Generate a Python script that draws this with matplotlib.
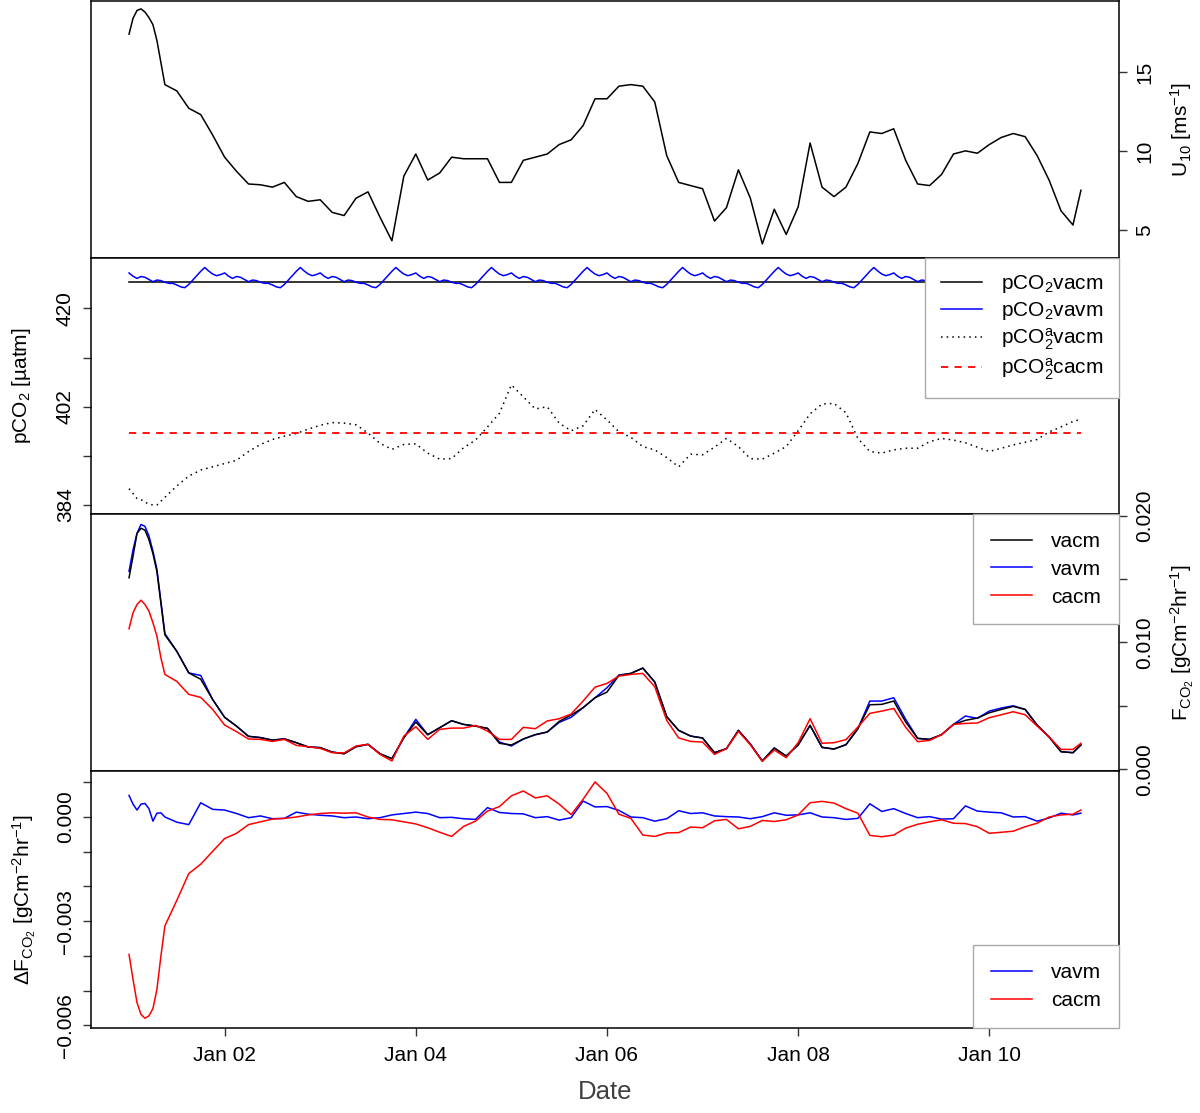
from datetime import datetime, timedelta
import matplotlib
matplotlib.use('Agg')
from matplotlib import pyplot as plt
import matplotlib.dates as mdates

plt.rcParams['font.family'] = ['Liberation Sans', 'DejaVu Sans']
plt.rcParams['mathtext.fontset'] = 'custom'
plt.rcParams['mathtext.rm'] = 'Liberation Sans'
plt.rcParams['mathtext.it'] = 'Liberation Sans:italic'
plt.rcParams['mathtext.bf'] = 'Liberation Sans:bold'
plt.rcParams['mathtext.sf'] = 'Liberation Sans'

# time axis: hourly for the first 9 hours (steep start), then every 3 hours,
# last reading at 23:00 on Jan 10
start = datetime(2018, 1, 1)
hours = list(range(0, 10)) + list(range(12, 240, 3)) + [239]

# wind speed U10 [m/s]
u10 = [17.4, 18.4, 18.9, 19.0, 18.8, 18.45, 18.0, 17.0, 15.6, 14.2,
       13.8, 12.7, 12.3, 11.0, 9.6, 8.7,
       7.9, 7.85, 7.7, 8.0, 7.1, 6.8, 6.9, 6.1, 5.9, 7.0,
       7.4, 5.8, 4.3, 8.4, 9.8, 8.15, 8.6, 9.6, 9.5, 9.5,
       9.5, 8.0, 8.0, 9.4, 9.6, 9.8, 10.4, 10.7, 11.6, 13.3,
       13.3, 14.1, 14.2, 14.1, 13.1, 9.7, 8.0, 7.8, 7.6, 5.55,
       6.4, 8.8, 7.0, 4.1, 6.3, 4.7, 6.45, 10.5, 7.7, 7.1,
       7.7, 9.2, 11.2, 11.1, 11.4, 9.4, 7.9, 7.8, 8.5, 9.8,
       10.0, 9.85, 10.4, 10.85, 11.1, 10.9, 9.7, 8.15, 6.2, 5.3,
       7.5]

# pCO2 [uatm]
pco2_vacm = 424.9
pco2a_cacm = 397.1
# blue curve repeats the same hourly pattern every day
pco2_vavm_day = [426.5, 425.9, 425.5, 425.85, 425.7, 425.3, 424.9, 425.2,
                 425.1, 424.8, 424.6, 424.6, 424.3, 423.95, 423.8, 424.4,
                 425.2, 426.0, 426.8, 427.5, 426.85, 426.3, 426.0, 426.2]
pco2a_vacm = [387.0, 386.1, 385.2, 385.0, 384.5, 384.2, 384.0, 384.0, 384.7, 385.4,
              387.5, 389.3, 390.4, 391.0, 391.6, 392.2,
              393.8, 395.1, 396.0, 396.6, 397.1, 397.9, 398.6, 399.1, 399.0, 398.7,
              397.2, 395.3, 394.2, 395.1, 395.2, 393.5, 392.4, 392.5, 394.5, 395.9,
              398.3, 400.8, 406.0, 403.8, 401.6, 402.0, 399.0, 397.6, 398.5, 401.5,
              399.6, 397.4, 396.4, 394.7, 394.1, 392.7, 391.0, 393.3, 393.2, 394.6,
              396.2, 394.7, 392.5, 392.4, 393.5, 394.7, 397.6, 400.7, 402.5, 402.6,
              400.9, 396.2, 393.8, 393.5, 394.1, 394.4, 394.4, 395.6, 396.2, 395.9,
              395.4, 394.6, 393.8, 394.4, 395.0, 395.5, 396.0, 397.4, 398.3, 399.3,
              399.7]

# CO2 flux, in 1e-3 gC m-2 hr-1
flux_vacm = [15.1, 16.8, 18.6, 19.0, 18.85, 18.1, 17.0, 15.6, 13.1, 10.6,
             9.3, 7.6, 7.1, 5.5, 4.1, 3.4,
             2.6, 2.5, 2.3, 2.4, 2.1, 1.76, 1.71, 1.36, 1.23, 1.78,
             1.97, 1.23, 0.84, 2.49, 3.73, 2.73, 3.28, 3.83, 3.54, 3.41,
             3.23, 2.05, 1.92, 2.39, 2.73, 2.94, 3.78, 4.28, 4.86, 5.64,
             6.09, 7.40, 7.56, 7.98, 6.88, 4.15, 3.07, 2.62, 2.47, 1.31,
             1.63, 3.07, 1.99, 0.66, 1.68, 1.05, 1.92, 3.46, 1.73, 1.60,
             1.94, 3.20, 5.09, 5.12, 5.38, 3.73, 2.44, 2.36, 2.73, 3.54,
             3.86, 4.04, 4.46, 4.72, 4.96, 4.72, 3.49, 2.55, 1.39, 1.31,
             1.92]
flux_vavm = [15.6, 17.3, 18.6, 19.3, 19.15, 18.4, 17.2, 15.75, 13.25, 10.7,
             9.3, 7.6, 7.4, 5.5, 4.1, 3.4,
             2.6, 2.5, 2.3, 2.4, 2.1, 1.76, 1.71, 1.36, 1.23, 1.78,
             1.97, 1.23, 0.84, 2.49, 3.94, 2.73, 3.28, 3.83, 3.54, 3.41,
             3.23, 2.15, 1.84, 2.39, 2.73, 2.94, 3.70, 4.10, 4.86, 5.64,
             6.43, 7.43, 7.56, 7.98, 6.88, 4.15, 3.07, 2.62, 2.47, 1.31,
             1.63, 3.07, 1.99, 0.66, 1.68, 1.05, 1.92, 3.46, 1.73, 1.60,
             1.94, 3.20, 5.38, 5.38, 5.64, 3.94, 2.44, 2.36, 2.73, 3.54,
             4.20, 4.02, 4.59, 4.83, 5.01, 4.72, 3.49, 2.55, 1.39, 1.31,
             1.92]
flux_cacm = [11.08, 12.34, 12.99, 13.33, 12.99, 12.47, 11.55, 10.5, 8.79, 7.48,
             6.93, 5.91, 5.67, 4.72, 3.49, 2.97,
             2.39, 2.36, 2.20, 2.36, 1.89, 1.78, 1.65, 1.31, 1.29, 1.84,
             1.97, 1.18, 0.66, 2.62, 3.36, 2.36, 3.15, 3.25, 3.25, 3.46,
             3.02, 2.36, 2.36, 3.31, 3.20, 3.81, 3.99, 4.36, 5.38, 6.48,
             6.77, 7.35, 7.48, 7.56, 6.51, 3.86, 2.47, 2.20, 2.15, 1.18,
             1.63, 2.99, 1.94, 0.63, 1.52, 0.92, 2.10, 3.99, 2.05, 2.10,
             2.34, 3.33, 4.41, 4.59, 4.80, 3.31, 2.18, 2.28, 2.73, 3.54,
             3.62, 3.65, 4.07, 4.30, 4.54, 4.30, 3.41, 2.55, 1.57, 1.57,
             2.05]

# flux difference to vacm, in 1e-3 gC m-2 hr-1
dflux_vavm = [0.62, 0.37, 0.20, 0.37, 0.39, 0.24, -0.12, 0.11, 0.12, 0.0,
              -0.15, -0.22, 0.41, 0.22, 0.20, 0.10,
              -0.02, 0.03, -0.05, -0.04, 0.14, 0.08, 0.05, 0.03, -0.02, 0.0,
              -0.05, -0.02, 0.06, 0.10, 0.14, 0.10, -0.02, -0.01, -0.05, -0.07,
              0.27, 0.13, 0.10, 0.09, -0.02, 0.01, -0.09, -0.02, 0.46, 0.29,
              0.30, 0.19, 0.0, -0.02, -0.12, -0.05, 0.18, 0.10, 0.12, 0.03,
              0.01, 0.0, -0.05, 0.01, 0.12, 0.05, 0.06, 0.12, 0.0, -0.02,
              -0.07, -0.04, 0.38, 0.16, 0.24, 0.10, -0.02, 0.01, -0.06, -0.05,
              0.32, 0.17, 0.14, 0.12, 0.0, 0.01, -0.12, -0.03, 0.11, 0.06,
              0.11]
dflux_cacm = [-3.96, -4.68, -5.35, -5.69, -5.80, -5.73, -5.52, -4.97, -4.01, -3.14,
              -2.40, -1.63, -1.36, -0.99, -0.62, -0.47,
              -0.22, -0.14, -0.06, -0.04, 0.0, 0.06, 0.10, 0.12, 0.11, 0.12,
              0.0, -0.07, -0.08, -0.14, -0.20, -0.31, -0.44, -0.56, -0.27, -0.12,
              0.17, 0.30, 0.61, 0.75, 0.55, 0.61, 0.37, 0.07, 0.51, 1.01,
              0.68, 0.08, -0.04, -0.52, -0.56, -0.46, -0.45, -0.29, -0.31, -0.11,
              -0.07, -0.34, -0.27, -0.10, -0.13, -0.08, 0.06, 0.41, 0.45, 0.40,
              0.24, 0.11, -0.53, -0.57, -0.52, -0.32, -0.21, -0.14, -0.08, -0.18,
              -0.19, -0.28, -0.47, -0.44, -0.41, -0.28, -0.18, 0.0, 0.06, 0.08,
              0.20]

# axis ticks
u10_ticks = [5, 10, 15]
pco2_ticks = [384, 393, 402, 411, 420]
pco2_labels = ['384', '', '402', '', '420']
flux_ticks = [0.0, 0.005, 0.010, 0.015, 0.020]
flux_labels = ['0.000', '', '0.010', '', '0.020']
dflux_ticks = [0.001, 0.0, -0.001, -0.002, -0.003, -0.004, -0.005, -0.006]
dflux_labels = ['', '0.000', '', '', '\u22120.003', '', '', '\u22120.006']

FS = 15
LW = 1.1
TICK_COL = '#333333'


def style_y(ax, ticks, labels, side):
    """Y ticks drawn R-like: outward, labels rotated along the axis"""
    if side == 'right':
        ax.yaxis.tick_right()
        ax.yaxis.set_label_position('right')
    ax.set_yticks(ticks)
    ax.set_yticklabels(labels)
    ax.tick_params(axis='y', direction='out', length=5.5, width=1,
                   color=TICK_COL, labelsize=FS, pad=6)
    for lbl in ax.get_yticklabels():
        lbl.set_rotation(90)
        lbl.set_va('center')
    ax.tick_params(axis='x', bottom=False, labelbottom=False)
    for sp in ax.spines.values():
        sp.set_linewidth(1.1)


def add_legend(ax, loc, spacing, pad, handles=None, labels=None):
    if handles is None:
        handles, labels = ax.get_legend_handles_labels()
    leg = ax.legend(handles, labels, loc=loc, fontsize=FS, borderaxespad=0,
                    borderpad=pad, handlelength=2.0, handletextpad=0.9,
                    labelspacing=spacing, fancybox=False, framealpha=1)
    leg.get_frame().set_edgecolor('#aaaaaa')
    leg.get_frame().set_linewidth(1.0)


def Visualization():
    dates = [start + timedelta(hours=h) for h in hours]
    dates_hourly = [start + timedelta(hours=h) for h in range(240)]
    pco2_vavm = pco2_vavm_day * 10

    fig = plt.figure(figsize=(12, 11.13), dpi=100)
    left, width, height = 0.0758, 0.8567, 0.2306
    ax1 = fig.add_axes([left, 0.7685, width, height])
    ax2 = fig.add_axes([left, 0.5379, width, height], sharex=ax1)
    ax3 = fig.add_axes([left, 0.3073, width, height], sharex=ax1)
    ax4 = fig.add_axes([left, 0.0767, width, height], sharex=ax1)

    # Wind speed
    ax1.plot(dates, u10, c='black', lw=LW)
    ax1.set_ylim(3.23, 19.5)
    style_y(ax1, u10_ticks, [str(t) for t in u10_ticks], 'right')
    ax1.set_ylabel('U$_{10}$ [ms$^{-1}$]', fontsize=FS)
    ax1.yaxis.set_label_coords(1.048, 0.5)

    # pCO2
    ax2.plot(dates, [pco2_vacm] * len(dates), c='black', lw=LW,
             label='pCO$_2$vacm')
    ax2.plot(dates_hourly, pco2_vavm, c='blue', lw=LW, label='pCO$_2$vavm')
    ax2.plot(dates, pco2a_vacm, c='black', lw=LW, ls=(0, (1, 2.7)),
             label='pCO$_2^{\\mathrm{a}}$vacm')
    ax2.plot(dates, [pco2a_cacm] * len(dates), c='red', lw=1.3, ls=(0, (4, 3.5)),
             label='pCO$_2^{\\mathrm{a}}$cacm')
    ax2.set_ylim(382.3, 429.3)
    style_y(ax2, pco2_ticks, pco2_labels, 'left')
    ax2.set_ylabel('pCO$_2$ [µatm]', fontsize=FS)
    ax2.yaxis.set_label_coords(-0.056, 0.5)
    add_legend(ax2, 'upper right', 0.22, 0.75)

    # Flux
    ax3.plot(dates, [v / 1000 for v in flux_vavm], c='blue', lw=LW, label='vavm')
    ax3.plot(dates, [v / 1000 for v in flux_vacm], c='black', lw=LW, label='vacm')
    ax3.plot(dates, [v / 1000 for v in flux_cacm], c='red', lw=LW, label='cacm')
    ax3.set_ylim(-0.00013, 0.0201)
    style_y(ax3, flux_ticks, flux_labels, 'right')
    ax3.set_ylabel('F$_{\\mathrm{CO}_2}$ [gCm$^{-2}$hr$^{-1}$]', fontsize=FS)
    ax3.yaxis.set_label_coords(1.048, 0.5)
    handles, labels = ax3.get_legend_handles_labels()
    order = [1, 0, 2]
    add_legend(ax3, 'upper right', 0.42, 0.85,
               [handles[i] for i in order], [labels[i] for i in order])

    # Flux difference
    ax4.plot(dates, [v / 1000 for v in dflux_vavm], c='blue', lw=LW, label='vavm')
    ax4.plot(dates, [v / 1000 for v in dflux_cacm], c='red', lw=LW, label='cacm')
    ax4.set_ylim(-0.00607, 0.001326)
    style_y(ax4, dflux_ticks, dflux_labels, 'left')
    ax4.set_ylabel('ΔF$_{\\mathrm{CO}_2}$ [gCm$^{-2}$hr$^{-1}$]', fontsize=FS)
    ax4.yaxis.set_label_coords(-0.052, 0.5)
    add_legend(ax4, 'lower right', 0.42, 0.85)

    # Date axis on the bottom panel only
    margin = timedelta(hours=0.04 * (hours[-1] - hours[0]))
    ax4.set_xlim(dates[0] - margin, dates[-1] + margin)
    ax4.xaxis.set_major_locator(mdates.DayLocator(bymonthday=[2, 4, 6, 8, 10]))
    ax4.xaxis.set_major_formatter(mdates.DateFormatter('%b %d'))
    ax4.tick_params(axis='x', bottom=True, labelbottom=True, direction='out',
                    length=5.5, width=1, color=TICK_COL, labelsize=FS, pad=8)
    ax4.set_xlabel('Date', fontsize=18.5, color='#404040')
    ax4.xaxis.set_label_coords(0.5, -0.205)

    fig.savefig('out.png', dpi=100)


def main():
    Visualization()


if __name__ == '__main__':
    main()
